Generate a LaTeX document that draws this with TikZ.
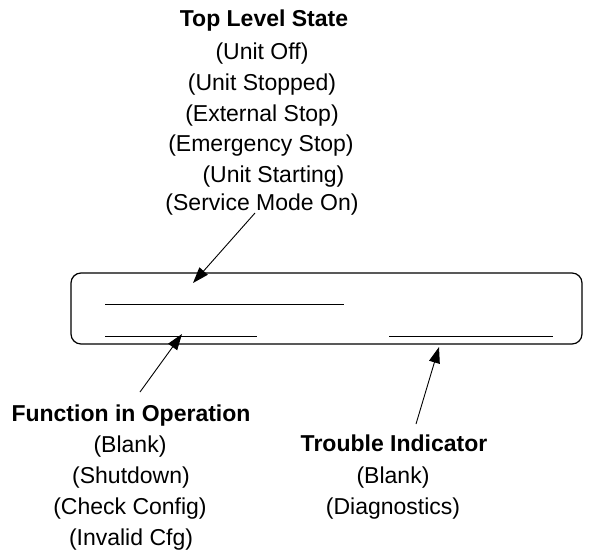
\documentclass[tikz,border=0pt]{standalone}
\usepackage{fontspec}
\setmainfont{Liberation Sans}
\usetikzlibrary{arrows.meta}
\begin{document}
\begin{tikzpicture}[x=1pt,y=-1pt,
  txt/.style={anchor=base,inner sep=0pt,font=\fontsize{23}{26.5}\selectfont},
  hdr/.style={txt,font=\fontsize{23}{26.5}\selectfont\bfseries},
  field/.style={line width=0.9pt},
  ptr/.style={line width=0.9pt,-{Triangle[length=16pt,width=11pt]}},
  panel/.style={draw,line width=1.2pt,rounded corners=10pt}]
\useasboundingbox (0,0) rectangle (591,554);
% display panel
\draw[panel] (71,273) rectangle (582,344);
\coordinate (f1a) at (105,304); \coordinate (f1b) at (344,304);
\coordinate (f2a) at (105,336); \coordinate (f2b) at (257,336);
\coordinate (f3a) at (389,336); \coordinate (f3b) at (553,336);
\draw[field] (f1a) -- (f1b);
\draw[field] (f2a) -- (f2b);
\draw[field] (f3a) -- (f3b);
% top block
\node[hdr] (tls) at (264,26) {Top Level State};
\node[txt] (t1) at (262,59) {(Unit Off)};
\node[txt] (t2) at (262,90) {(Unit Stopped)};
\node[txt] (t3) at (262,121) {(External Stop)};
\node[txt] (t4) at (261,151.5) {(Emergency Stop)};
\node[txt] (t5) at (273.5,182) {(Unit Starting)};
\node[txt] (t6) at (262,210) {(Service Mode On)};
% bottom left block
\node[hdr] (fio) at (131,421) {Function in Operation};
\node[txt] (b1) at (130,452) {(Blank)};
\node[txt] (b2) at (131,483) {(Shutdown)};
\node[txt] (b3) at (130,514) {(Check Config)};
\node[txt] (b4) at (131,545) {(Invalid Cfg)};
% bottom right block
\node[hdr] (tri) at (394,451) {Trouble Indicator};
\node[txt] (r1) at (393,483) {(Blank)};
\node[txt] (r2) at (393,514) {(Diagnostics)};
% pointers
\coordinate (a1s) at (255,213); \coordinate (a1e) at (193,283);
\coordinate (a2s) at (140,392); \coordinate (a2e) at (182,334);
\coordinate (a3s) at (416,424); \coordinate (a3e) at (439,347);
\draw[ptr] (a1s) -- (a1e);
\draw[ptr] (a2s) -- (a2e);
\draw[ptr] (a3s) -- (a3e);
\end{tikzpicture}
\end{document}
